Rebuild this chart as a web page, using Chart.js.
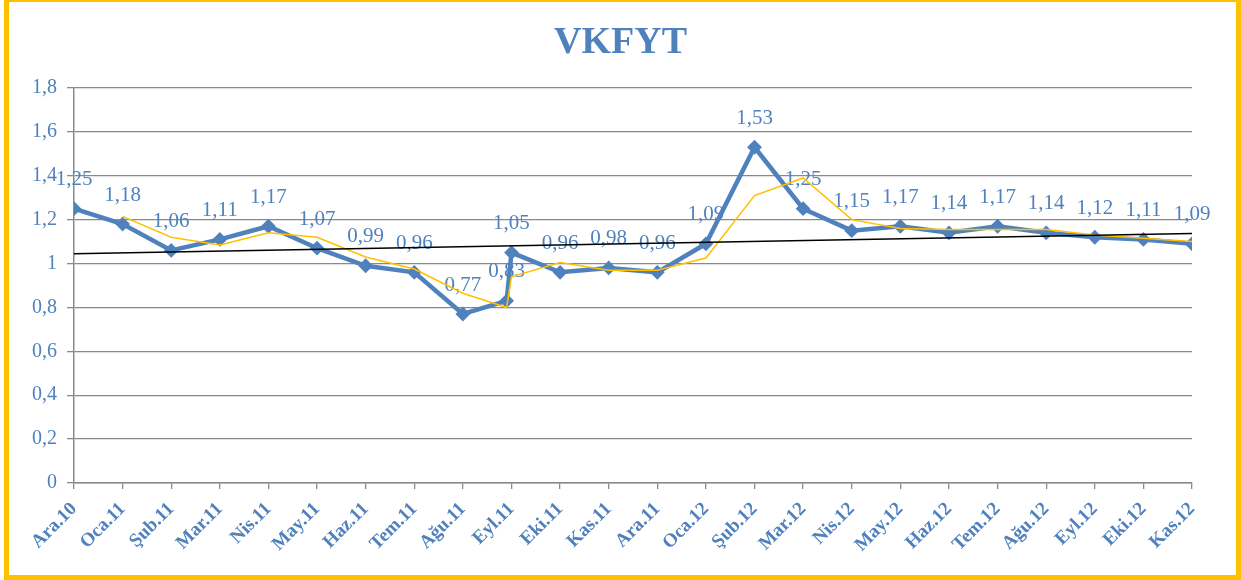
<!DOCTYPE html>
<html>
<head>
<meta charset="utf-8">
<title>VKFYT</title>
<script src="https://cdn.jsdelivr.net/npm/chart.js@4.4.1/dist/chart.umd.min.js"></script>
<style>
	html, body { margin: 0; padding: 0; background: #fff; }
	#wrap { position: relative; width: 1241px; height: 580px; overflow: hidden; }
	#chart { position: absolute; left: 0; top: 0; }
	#frame {
		position: absolute; left: 4px; top: -3px; width: 1237px; height: 583px;
		border: 5px solid #FFC000; box-sizing: border-box; pointer-events: none;
	}
</style>
</head>
<body>
<div id="wrap">
	<canvas id="chart" width="1241" height="580"></canvas>
	<div id="frame"></div>
</div>
<script>
	'use strict';

	// Month labels on the x axis
	const monthLabels = [
		'Ara.10', 'Oca.11', 'Şub.11', 'Mar.11', 'Nis.11', 'May.11', 'Haz.11', 'Tem.11',
		'Ağu.11', 'Eyl.11', 'Eki.11', 'Kas.11', 'Ara.11', 'Oca.12', 'Şub.12', 'Mar.12',
		'Nis.12', 'May.12', 'Haz.12', 'Tem.12', 'Ağu.12', 'Eyl.12', 'Eki.12', 'Kas.12'
	];

	// Position of each observation along the month axis (two readings fall in Sept 2011)
	const pointMonths = [0, 1, 2, 3, 4, 5, 6, 7, 8, 8.9, 9, 10, 11, 12, 13, 14, 15, 16, 17, 18, 19, 20, 21, 22, 23];

	// VKFYT values
	const vkfyt = [
		1.25, 1.18, 1.06, 1.11, 1.17, 1.07, 0.99, 0.96, 0.77, 0.83, 1.05, 0.96, 0.98,
		0.96, 1.09, 1.53, 1.25, 1.15, 1.17, 1.14, 1.17, 1.14, 1.12, 1.11, 1.09
	];

	// 2-period moving average line (yellow)
	const movingAvg = [
		null, 1.215, 1.12, 1.085, 1.14, 1.12, 1.03, 0.975, 0.865, 0.80, 0.94, 1.005, 0.97,
		0.97, 1.025, 1.31, 1.39, 1.20, 1.16, 1.155, 1.155, 1.155, 1.13, 1.115, 1.10
	];

	// Linear trend line end values (black)
	const trendMonths = [0, 23];
	const trendValues = [1.045, 1.137];

	const BLUE = '#4F81BD';
	const SERIF = "'Times New Roman', 'Liberation Serif', serif";

	const toPoints = (xs, ys) => xs.map((x, i) => ({ x: x, y: ys[i] })).filter(p => p.y !== null);
	const fmt = v => String(Number(v.toFixed(2))).replace('.', ',');

	// Data labels drawn under the lines, like the original
	const valueLabels = {
		id: 'valueLabels',
		beforeDatasetsDraw(chart) {
			const meta = chart.getDatasetMeta(0);
			const ctx = chart.ctx;
			ctx.save();
			ctx.font = '21px ' + SERIF;
			ctx.fillStyle = BLUE;
			ctx.textAlign = 'center';
			ctx.textBaseline = 'middle';
			meta.data.forEach((el, i) => {
				ctx.fillText(fmt(vkfyt[i]), el.x, el.y - 29);
			});
			ctx.restore();
		}
	};

	// Title centred on the whole page (the built-in one centres on the padded box)
	const pageTitle = {
		id: 'pageTitle',
		afterDraw(chart) {
			const ctx = chart.ctx;
			ctx.save();
			ctx.font = 'bold 38px ' + SERIF;
			ctx.fillStyle = BLUE;
			ctx.textAlign = 'center';
			ctx.textBaseline = 'middle';
			ctx.fillText('VKFYT', chart.width / 2, 43);
			ctx.restore();
		}
	};

	new Chart(document.getElementById('chart'), {
		type: 'line',
		data: {
			datasets: [
				{
					label: 'VKFYT',
					data: toPoints(pointMonths, vkfyt),
					borderColor: BLUE,
					backgroundColor: BLUE,
					borderWidth: 4.5,
					pointStyle: 'rectRot',
					pointRadius: 6,
					pointBorderWidth: 2,
					tension: 0,
					order: 3
				},
				{
					label: 'Moving average',
					data: toPoints(pointMonths, movingAvg),
					borderColor: '#FFC000',
					borderWidth: 1.5,
					pointRadius: 0,
					tension: 0,
					order: 2
				},
				{
					label: 'Trend',
					data: toPoints(trendMonths, trendValues),
					borderColor: '#000000',
					borderWidth: 1.5,
					pointRadius: 0,
					tension: 0,
					order: 1
				}
			]
		},
		options: {
			responsive: false,
			animation: false,
			layout: { padding: { top: 88, right: 49, bottom: 0, left: 0 } },
			plugins: {
				legend: { display: false },
				tooltip: { enabled: false },
				title: { display: false }
			},
			scales: {
				x: {
					type: 'linear',
					min: 0,
					max: monthLabels.length - 1,
					afterFit: s => { s.height = 97; },
					afterBuildTicks: s => {
						s.ticks = monthLabels.map((_, i) => ({ value: i }));
					},
					ticks: {
						autoSkip: false,
						minRotation: 45,
						maxRotation: 45,
						padding: 9,
						color: BLUE,
						font: { family: SERIF, size: 19, weight: 'bold' },
						callback: v => monthLabels[v]
					},
					grid: {
						drawOnChartArea: false,
						drawTicks: true,
						tickLength: 6,
						color: '#898989',
						lineWidth: 1.3
					},
					border: { color: '#898989', width: 1.5 }
				},
				y: {
					min: 0,
					max: 1.8,
					afterFit: s => { s.width = 74; },
					ticks: {
						stepSize: 0.2,
						padding: 10,
						color: BLUE,
						font: { family: SERIF, size: 20 },
						callback: v => fmt(v)
					},
					grid: {
						color: '#898989',
						lineWidth: 1.3,
						tickLength: 7
					},
					border: { color: '#898989', width: 1.5 }
				}
			}
		},
		plugins: [valueLabels, pageTitle]
	});
</script>
</body>
</html>
